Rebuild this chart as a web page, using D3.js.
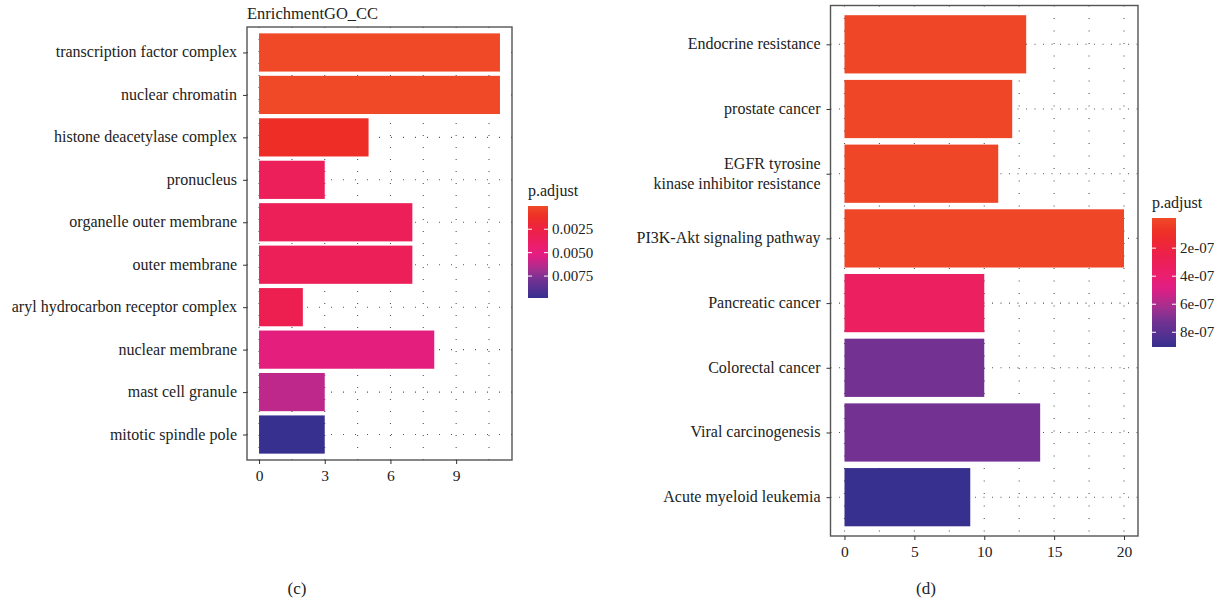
<!DOCTYPE html>
<html><head><meta charset="utf-8">
<script src="https://cdn.jsdelivr.net/npm/d3@7"></script>
<style>body{margin:0;background:#fff}svg text{font-family:"Liberation Serif","Times New Roman",serif;fill:#222}</style>
</head><body><svg id="c" width="1223" height="610"></svg>
<script>
// ---- Panel (c): GO cellular component ----
const ccTerms = ["transcription factor complex","nuclear chromatin","histone deacetylase complex","pronucleus","organelle outer membrane","outer membrane","aryl hydrocarbon receptor complex","nuclear membrane","mast cell granule","mitotic spindle pole"];
const ccCounts = [11,11,5,3,7,7,2,8,3,3];
const ccPadj = [0.00005,0.00005,0.0012,0.0035,0.0034,0.0034,0.0030,0.0050,0.0062,0.0098];
const ccXTicks = [0,3,6,9];
const ccLegendTicks = [0.0025,0.0050,0.0075];
const ccLegendLabels = ["0.0025","0.0050","0.0075"];

// ---- Panel (d): KEGG ----
const kgTerms = ["Endocrine resistance","prostate cancer","EGFR tyrosine\nkinase inhibitor resistance","PI3K-Akt signaling pathway","Pancreatic cancer","Colorectal cancer","Viral carcinogenesis","Acute myeloid leukemia"];
const kgCounts = [13,12,11,20,10,10,14,9];
const kgPadj = [1e-9,1e-9,2e-9,1e-9,3.3e-7,7.2e-7,7.2e-7,9.05e-7];
const kgXTicks = [0,5,10,15,20];
const kgLegendTicks = [2e-7,4e-7,6e-7,8e-7];
const kgLegendLabels = ["2e-07","4e-07","6e-07","8e-07"];

// color ramp (red -> magenta -> purple -> blue)
const rampT = [0,0.12,0.3,0.45,0.55,0.7,0.8,1];
const rampC = ["#EF4A28","#EE2D26","#EC1F4F","#EB1E70","#DF1E85","#A0308F","#733192","#37308F"];

const svg = d3.select("#c");

function panel(o){
  const g = svg.append("g");
  const x = d3.scaleLinear().domain(o.xDom).range([o.left,o.right]);
  const y = d3.scalePoint().domain(o.terms).range([o.top,o.bottom]).padding(0.6);
  const bw = y.step()*0.9;
  const col = d3.scaleLinear().domain(rampT.map(t=>o.pDom[0]+t*(o.pDom[1]-o.pDom[0]))).range(rampC).clamp(true);
  // grid
  const grid = g.append("g").attr("stroke","#555").attr("stroke-width",1.1);
  o.gridX.forEach(v=>grid.append("line").attr("x1",x(v)).attr("x2",x(v)).attr("y1",o.top).attr("y2",o.bottom).attr("stroke-dasharray",o.dashV));
  o.terms.forEach(t=>grid.append("line").attr("x1",o.left).attr("x2",o.right).attr("y1",y(t)).attr("y2",y(t)).attr("stroke-dasharray",o.dashH));
  // bars
  g.selectAll("rect.bar").data(o.terms).join("rect").attr("class","bar")
    .attr("x",x(0)).attr("y",t=>y(t)-bw/2)
    .attr("width",(t,i)=>x(o.counts[i])-x(0)).attr("height",bw)
    .attr("fill",(t,i)=>col(o.padj[i]));
  // frame
  g.append("rect").attr("x",o.left).attr("y",o.top).attr("width",o.right-o.left).attr("height",o.bottom-o.top)
    .attr("fill","none").attr("stroke","#555").attr("stroke-width",1.4);
  // x axis
  const xa = g.append("g").attr("transform",`translate(0,${o.bottom})`)
    .call(d3.axisBottom(x).tickValues(o.xTicks).tickSize(4).tickPadding(6).tickFormat(d3.format("d")));
  xa.select(".domain").remove();
  xa.selectAll("line").attr("stroke","#333");
  xa.selectAll("text").attr("font-size",15.5).attr("fill","#222");
  // y axis
  const ya = g.append("g").attr("transform",`translate(${o.left},0)`)
    .call(d3.axisLeft(y).tickSize(4).tickPadding(6).tickFormat(""));
  ya.select(".domain").remove();
  ya.selectAll("line").attr("stroke","#333");
  o.terms.forEach(t=>{
    const lines = t.split("\n");
    const tx = g.append("text").attr("x",o.left-10).attr("text-anchor","end").attr("font-size",16);
    lines.forEach((l,i)=>tx.append("tspan").attr("x",o.left-10)
      .attr("y",y(t)+5+(i-(lines.length-1)/2)*20).text(l));
  });
  // legend
  const lg = g.append("g");
  lg.append("text").attr("x",o.lx).attr("y",o.ly-10).attr("font-size",16).text("p.adjust");
  const gid = "grad"+o.id;
  const grad = svg.append("defs").append("linearGradient").attr("id",gid).attr("x1",0).attr("x2",0).attr("y1",0).attr("y2",1);
  d3.range(0,1.0001,0.05).forEach(t=>grad.append("stop").attr("offset",t).attr("stop-color",col(o.pDom[0]+t*(o.pDom[1]-o.pDom[0]))));
  lg.append("rect").attr("x",o.lx).attr("y",o.ly).attr("width",o.lw).attr("height",o.lh).attr("fill",`url(#${gid})`);
  const ls = d3.scaleLinear().domain(o.pDom).range([o.ly,o.ly+o.lh]);
  o.lTicks.forEach((v,i)=>{
    lg.append("line").attr("x1",o.lx).attr("x2",o.lx+4).attr("y1",ls(v)).attr("y2",ls(v)).attr("stroke","#fff").attr("stroke-width",1);
    lg.append("line").attr("x1",o.lx+o.lw-4).attr("x2",o.lx+o.lw).attr("y1",ls(v)).attr("y2",ls(v)).attr("stroke","#fff").attr("stroke-width",1);
    lg.append("text").attr("x",o.lx+o.lw+4).attr("y",ls(v)+5).attr("font-size",15).text(o.lLabels[i]);
  });
}

panel({id:"cc",terms:ccTerms,counts:ccCounts,padj:ccPadj,xDom:[-0.55,11.55],left:247,right:512,top:27,bottom:460,
  xTicks:ccXTicks,gridX:[0,1.5,3,4.5,6,7.5,9,10.5],dashV:"1,11",dashH:"1,11",
  pDom:[0.00002,0.00984],lx:528,ly:206,lw:20,lh:92,lTicks:ccLegendTicks,lLabels:ccLegendLabels});
panel({id:"kg",terms:kgTerms,counts:kgCounts,padj:kgPadj,xDom:[-1,21],left:830.5,right:1138,top:5.5,bottom:536,
  xTicks:kgXTicks,gridX:[0,2.5,5,7.5,10,12.5,15,17.5,20],dashV:"1,11.5",dashH:"1,7.5",
  pDom:[-1.5e-8,9.05e-7],lx:1152,ly:218,lw:24,lh:129,lTicks:kgLegendTicks,lLabels:kgLegendLabels});

svg.append("text").attr("x",247).attr("y",19).attr("font-size",16.5).text("EnrichmentGO_CC");
svg.append("text").attr("x",297).attr("y",594).attr("font-size",17).attr("text-anchor","middle").text("(c)");
svg.append("text").attr("x",926).attr("y",594).attr("font-size",17).attr("text-anchor","middle").text("(d)");
</script></body></html>
